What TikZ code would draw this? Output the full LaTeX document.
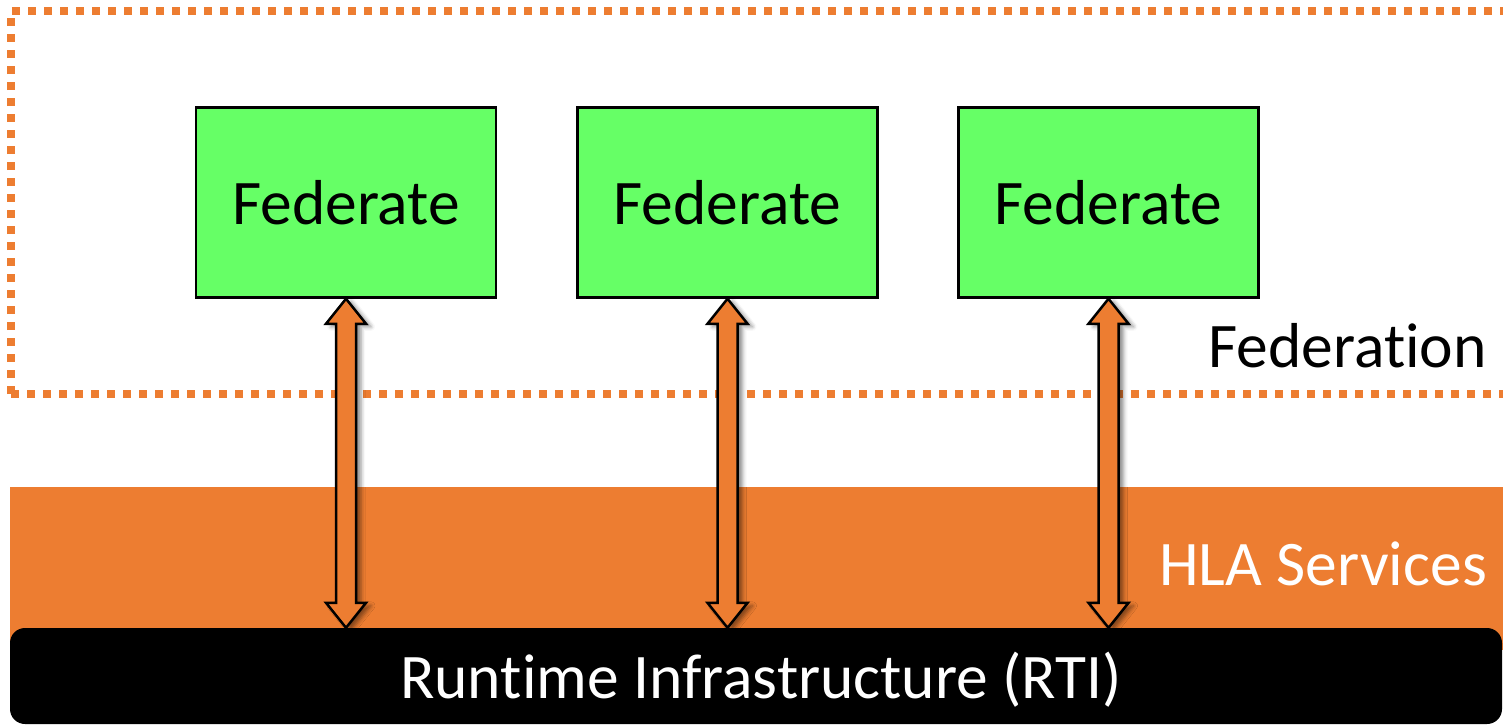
\documentclass[tikz,border=0pt]{standalone}
\usepackage{fontspec}
\setmainfont{Carlito}[Ligatures={NoCommon}, Contextuals={NoAlternate}]
\usetikzlibrary{calc,shadows.blur}
\definecolor{hlaorange}{HTML}{ED7D31}
\definecolor{fedgreen}{HTML}{66FF66}
% keep "t" and "i" as separate glyphs
\newcommand{\tisep}{t\kern0pt i}
\tikzset{
  bigtext/.style={font=\fontsize{63.5}{76}\selectfont},
  fedbox/.style={draw=black, line width=2.5pt, fill=fedgreen,
    minimum width=300pt, minimum height=190pt, inner sep=0pt, bigtext},
  label/.style={inner sep=0pt, bigtext},
  hlaarrow/.style={draw=black, line width=2.5pt, fill=hlaorange, line join=miter,
    blur shadow={shadow xshift=5pt, shadow yshift=-3pt, shadow blur radius=4pt,
      shadow opacity=45}},
  boundary/.style={hlaorange, line width=8pt, dash pattern=on 8pt off 8pt},
}
\begin{document}
\begin{tikzpicture}[x=1pt,y=-1pt]
\useasboundingbox (0,0) rectangle (1503,725);
\clip (0,0) rectangle (1503,725);

% federation boundary
\draw[boundary] (11,394) -- (11,11) -- (1540,11);
\draw[boundary] (11,394) -- (1540,394);
\node[label, anchor=base east] (fedn) at (1487,367) {Federa\tisep on};

% HLA services band and RTI bar
\fill[hlaorange] (10,487) rectangle (1503,650);
\node[label, anchor=base east, text=white] (hla) at (1487,585) {HLA Services};
\node[fill=black, rounded corners=15pt, minimum width=1492pt, minimum height=96pt,
  inner sep=0pt] (rti) at (756,676) {};
\node[label, anchor=base, text=white] (rtit) at (761,698) {Run\tisep me Infrastructure (RTI)};

% federates
\node[fedbox] (f1) at (346,202.5) {Federate};
\node[fedbox] (f2) at (727.5,202.5) {Federate};
\node[fedbox] (f3) at (1108.5,202.5) {Federate};

% two-way arrows between each federate and the RTI
\foreach \f in {f1,f2,f3}{
  \draw[hlaarrow] let \p1=(\f.south), \p2=(\f.south |- rti.north) in
    (\x1,\y1) -- (\x1+20pt,\y1-25pt) -- (\x1+10pt,\y1-25pt) -- (\x1+10pt,\y2+25pt)
    -- (\x1+20pt,\y2+25pt) -- (\x1,\y2) -- (\x1-20pt,\y2+25pt) -- (\x1-10pt,\y2+25pt)
    -- (\x1-10pt,\y1-25pt) -- (\x1-20pt,\y1-25pt) -- cycle;
}
\end{tikzpicture}
\end{document}
